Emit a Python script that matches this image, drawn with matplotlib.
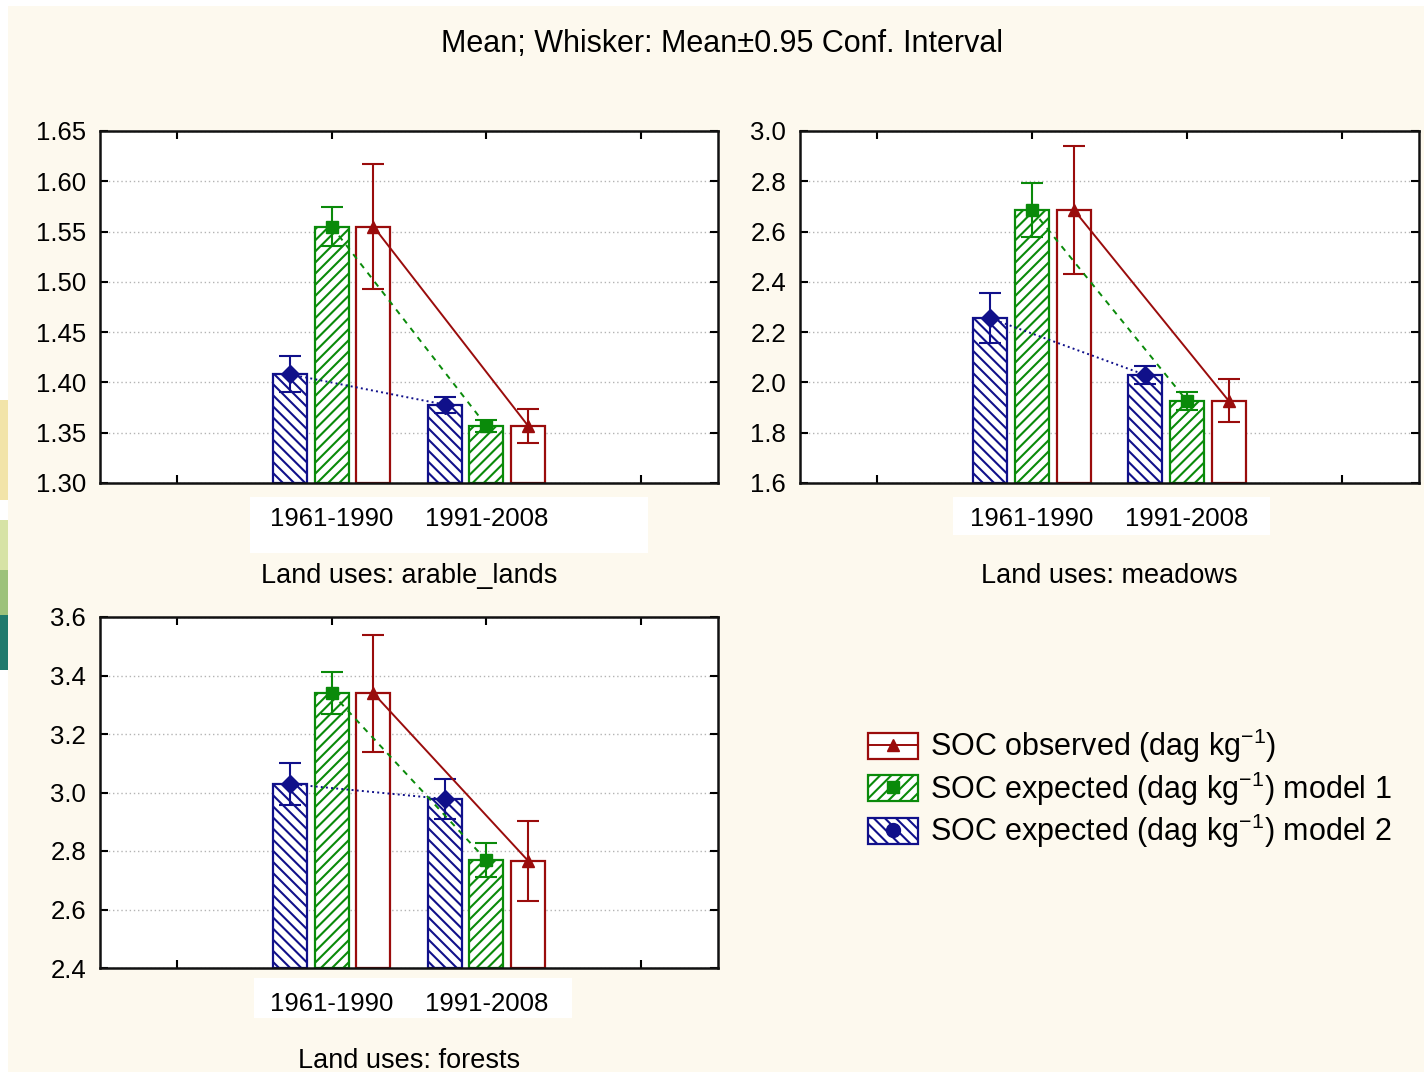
import matplotlib
matplotlib.use("Agg")
import matplotlib.pyplot as plt
from matplotlib.patches import Rectangle, Patch
from matplotlib.lines import Line2D
from matplotlib.legend_handler import HandlerTuple

plt.rcParams["font.family"] = ["Liberation Sans", "DejaVu Sans"]
plt.rcParams["mathtext.fontset"] = "custom"
plt.rcParams["mathtext.rm"] = "Liberation Sans"
plt.rcParams["mathtext.it"] = "Liberation Sans:italic"
plt.rcParams["hatch.linewidth"] = 1.5

periods = ["1961-1990", "1991-2008"]
land_uses = ["arable_lands", "meadows", "forests"]
y_ranges = [(1.30, 1.65), (1.6, 3.0), (2.4, 3.6)]
y_steps = [0.05, 0.2, 0.2]
y_formats = ["{:.2f}", "{:.1f}", "{:.1f}"]

# means and 0.95 confidence half-widths per land use, per period
soc_observed = [[1.555, 1.357], [2.686, 1.927], [3.339, 2.767]]
soc_observed_ci = [[0.062, 0.017], [0.256, 0.085], [0.200, 0.137]]
soc_model1 = [[1.555, 1.357], [2.686, 1.927], [3.339, 2.769]]
soc_model1_ci = [[0.019, 0.006], [0.109, 0.035], [0.072, 0.057]]
soc_model2 = [[1.408, 1.378], [2.255, 2.030], [3.029, 2.978]]
soc_model2_ci = [[0.018, 0.008], [0.100, 0.037], [0.071, 0.068]]

RED = "#9a0c0c"
GREEN = "#0a8a0a"
BLUE = "#10108a"
CREAM = "#fdf9ee"

W, H = 1424, 1072


def fig_box(x0, y0, x1, y1):
    # pixel box (top-left origin) -> figure fraction rect
    return [x0 / W, 1 - y1 / H, (x1 - x0) / W, (y1 - y0) / H]


fig = plt.figure(figsize=(W / 100, H / 100), dpi=100, facecolor="white")

# page background and the slide stripes at the left edge
fig.patches.append(Rectangle((8 / W, 0), 1, 1 - 6 / H, transform=fig.transFigure,
                             facecolor=CREAM, edgecolor="none", zorder=-3))
for y0, y1, col in [(400, 500, "#f2e4a8"), (520, 570, "#d7e3a6"),
                    (570, 615, "#9cc27a"), (615, 670, "#1f7a6c")]:
    b = fig_box(0, y0, 8, y1)
    fig.patches.append(Rectangle((b[0], b[1]), b[2], b[3], transform=fig.transFigure,
                                 facecolor=col, edgecolor="none", zorder=-3))

# white label strips under the period labels
for box in [(250, 497, 648, 553), (953, 497, 1270, 535), (254, 978, 572, 1018)]:
    b = fig_box(*box)
    fig.patches.append(Rectangle((b[0], b[1]), b[2], b[3], transform=fig.transFigure,
                                 facecolor="white", edgecolor="none", zorder=-2))

axes_boxes = [(100, 131, 718, 483), (800, 131, 1419, 483), (100, 617, 718, 968)]

offset = 0.27
width = 0.22
x = [1, 2]

series = [
    (soc_model2, soc_model2_ci, BLUE, "\\\\\\", "D", ":", -offset),
    (soc_model1, soc_model1_ci, GREEN, "///", "s", (0, (3, 3)), 0.0),
    (soc_observed, soc_observed_ci, RED, "", "^", "-", offset),
]

for i, use in enumerate(land_uses):
    ax = fig.add_axes(fig_box(*axes_boxes[i]))
    ax.set_facecolor("white")
    lo, hi = y_ranges[i]
    for means, cis, col, hatch, mk, ls, off in series:
        xs = [p + off for p in x]
        m = means[i]
        ax.bar(xs, [v - lo for v in m], bottom=lo, width=width, facecolor="white",
               edgecolor=col, hatch=hatch, linewidth=1.6, zorder=2)
        ax.errorbar(xs, m, yerr=cis[i], fmt="none", ecolor=col, elinewidth=1.5,
                    capsize=8, capthick=1.5, zorder=3)
        ax.plot(xs, m, color=col, linestyle=ls, linewidth=1.4, marker=mk,
                markersize=9, markerfacecolor=col, markeredgecolor=col, zorder=4)

    ax.set_xlim(-0.5, 3.5)
    ax.set_ylim(lo, hi)
    n = int(round((hi - lo) / y_steps[i]))
    yt = [lo + k * y_steps[i] for k in range(n + 1)]
    ax.set_yticks(yt, [y_formats[i].format(v) for v in yt])
    ax.set_xticks([0, 1, 2, 3], [""] + periods + [""])
    ax.tick_params(axis="both", direction="in", length=6, width=1.5,
                   top=True, right=True, labelsize=18.5, colors="black")
    ax.tick_params(axis="x", pad=17.5)
    ax.tick_params(axis="y", pad=10)
    ax.yaxis.grid(True, linestyle=(0, (1, 2)), color="#b4b4b4", linewidth=1)
    ax.set_axisbelow(True)
    for sp in ax.spines.values():
        sp.set_linewidth(1.8)
        sp.set_color("#111111")
    ax.set_xlabel(f"Land uses: {use}", fontsize=19.5, labelpad=23)

fig.text(722 / W, 1 - 44 / H, "Mean; Whisker: Mean\u00b10.95 Conf. Interval",
         ha="center", va="center", fontsize=22)

handles = [
    (Patch(facecolor="white", edgecolor=RED, linewidth=1.6),
     Line2D([], [], color=RED, linewidth=1.4, marker="^", markersize=9)),
    (Patch(facecolor="white", edgecolor=GREEN, hatch="///", linewidth=1.6),
     Line2D([], [], color=GREEN, linestyle="none", marker="s", markersize=9)),
    (Patch(facecolor="white", edgecolor=BLUE, hatch="\\\\\\", linewidth=1.6),
     Line2D([], [], color=BLUE, linestyle="none", marker="o", markersize=10)),
]
labels = [
    "SOC observed (dag kg$^{\\mathrm{-1}}$)",
    "SOC expected (dag kg$^{\\mathrm{-1}}$) model 1",
    "SOC expected (dag kg$^{\\mathrm{-1}}$) model 2",
]
fig.legend(handles, labels, handler_map={tuple: HandlerTuple(ndivide=1, pad=0)},
           loc="upper left", bbox_to_anchor=(868 / W, 1 - 727 / H),
           frameon=False, fontsize=22, borderpad=0, borderaxespad=0,
           handlelength=1.63, handleheight=0.92, handletextpad=0.4,
           labelspacing=0.14)

fig.savefig("out.png", dpi=100, facecolor=fig.get_facecolor())
